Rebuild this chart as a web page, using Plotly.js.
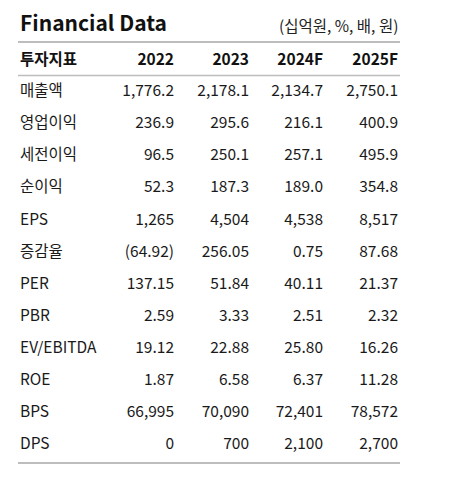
<!DOCTYPE html>
<html><head><meta charset="utf-8">
<script src="https://cdn.plot.ly/plotly-3.0.1.min.js"></script>
<style>html,body{margin:0;padding:0;background:#fff}#c{width:458px;height:490px}</style>
</head><body><div id="c"></div>
<script>
const headers = ['투자지표', '2022', '2023', '2024F', '2025F'];
const items = ['매출액','영업이익','세전이익','순이익','EPS','증감율','PER','PBR','EV/EBITDA','ROE','BPS','DPS'];
const y2022 = ['1,776.2','236.9','96.5','52.3','1,265','(64.92)','137.15','2.59','19.12','1.87','66,995','0'];
const y2023 = ['2,178.1','295.6','250.1','187.3','4,504','256.05','51.84','3.33','22.88','6.58','70,090','700'];
const y2024F = ['2,134.7','216.1','257.1','189.0','4,538','0.75','40.11','2.51','25.80','6.37','72,401','2,100'];
const y2025F = ['2,750.1','400.9','495.9','354.8','8,517','87.68','21.37','2.32','16.26','11.28','78,572','2,700'];

const W = 458, H = 490;
const px = v => v / W, py = v => 1 - v / H;
const font = "'Noto Sans CJK KR', 'Noto Sans', sans-serif";

const trace = {
  type: 'table',
  domain: {x: [px(12), px(406)], y: [py(466), py(38.5)]},
  columnwidth: [95, 75, 75, 74, 75],
  header: {
    values: headers.map(h => '<b>' + h + '</b>'),
    align: ['left','right','right','right','right'],
    height: 33.5,
    font: {family: font, size: 15.5, color: '#111'},
    line: {width: 0, color: 'rgba(0,0,0,0)'},
    fill: {color: 'rgba(0,0,0,0)'}
  },
  cells: {
    values: [items, y2022, y2023, y2024F, y2025F],
    align: ['left','right','right','right','right'],
    height: 32.1,
    font: {family: font, size: 15.5, color: '#1a1a1a'},
    line: {width: 0, color: 'rgba(0,0,0,0)'},
    fill: {color: 'rgba(0,0,0,0)'}
  }
};

const layout = {
  width: W, height: H,
  margin: {l: 0, r: 0, t: 0, b: 0},
  paper_bgcolor: '#fff',
  showlegend: false,
  annotations: [
    {text: '<b>Financial Data</b>', xref: 'paper', yref: 'paper', x: px(18), y: py(22), xanchor: 'left', yanchor: 'middle',
     showarrow: false, font: {family: font, size: 21, color: '#111'}},
    {text: '(십억원, %, 배, 원)', xref: 'paper', yref: 'paper', x: px(400), y: py(25), xanchor: 'right', yanchor: 'middle',
     showarrow: false, font: {family: font, size: 15.5, color: '#222'}}
  ],
  shapes: [
    {type: 'line', xref: 'paper', yref: 'paper', x0: px(18), x1: px(400), y0: py(42), y1: py(42), line: {color: '#bdbdbd', width: 2}},
    {type: 'line', xref: 'paper', yref: 'paper', x0: px(18), x1: px(400), y0: py(75.5), y1: py(75.5), line: {color: '#bdbdbd', width: 1.5}},
    {type: 'line', xref: 'paper', yref: 'paper', x0: px(18), x1: px(400), y0: py(463), y1: py(463), line: {color: '#bdbdbd', width: 2}}
  ]
};

Plotly.newPlot('c', [trace], layout, {displayModeBar: false, staticPlot: true});
</script></body></html>
